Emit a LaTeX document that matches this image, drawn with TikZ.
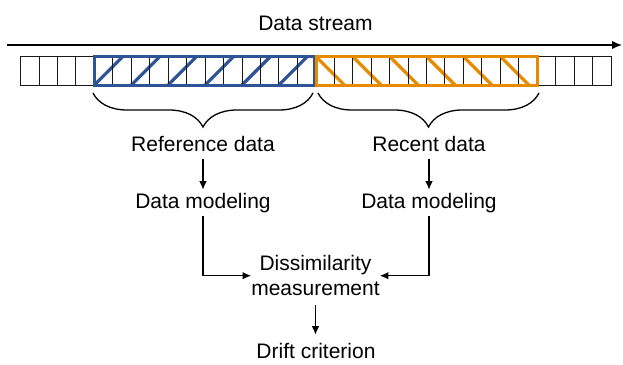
\documentclass[tikz,border=0pt]{standalone}
\usepackage{fontspec}
\setmainfont{Liberation Sans}
\usetikzlibrary{arrows.meta,decorations.pathreplacing}
\definecolor{refblue}{RGB}{47,84,150}
\definecolor{recorange}{RGB}{230,138,0}
\begin{document}
\begin{tikzpicture}[x=1pt,y=-1pt,
  lbl/.style={font=\fontsize{21}{25}\selectfont, text height=15.2pt, text depth=4.4pt, inner xsep=0pt, inner ysep=3pt, anchor=base},
  arr/.style={-{Latex[length=8.5pt,width=7.5pt]}, line width=1.1pt},
  cell/.style={draw=black!90, line width=1pt},
  hatch/.style={line width=3.2pt},
  frame/.style={line width=3pt},
  curly/.style={decorate, decoration={brace, amplitude=34pt, mirror}, line width=1.3pt}]
\useasboundingbox (0,0) rectangle (623,364);
\def\cx{20.6}\def\cw{18.45}\def\ct{56.5}\def\cb{85}
% cells
\foreach \i in {0,...,31}
  \draw[cell] ({\cx+\i*\cw},\ct) rectangle ({\cx+(\i+1)*\cw},\cb);
% blue hatch
\begin{scope}
  \clip ({\cx+4*\cw},\ct) rectangle ({\cx+16*\cw},\cb);
  \foreach \k in {0,...,6}
    \draw[refblue,hatch] ({\cx+4*\cw+2*\k*\cw},\cb) -- ++(28.5,-28.5);
\end{scope}
% orange hatch
\begin{scope}
  \clip ({\cx+16*\cw},\ct) rectangle ({\cx+28*\cw},\cb);
  \foreach \k in {0,...,6}
    \draw[recorange,hatch] ({\cx+16*\cw+2*\k*\cw},\ct) -- ++(28.5,28.5);
\end{scope}
\foreach \i in {5,...,15}
  \draw[cell] ({\cx+\i*\cw},\ct) -- ({\cx+\i*\cw},\cb);
\foreach \i in {17,...,27}
  \draw[cell] ({\cx+\i*\cw},\ct) -- ({\cx+\i*\cw},\cb);
\draw[refblue,frame] ({\cx+4*\cw},\ct) rectangle ({\cx+16*\cw-1},\cb);
\draw[recorange,frame] ({\cx+16*\cw+1},\ct) rectangle ({\cx+28*\cw},\cb);
% stream arrow
\coordinate (s0) at (7,45);
\coordinate (s1) at (622,45);
\draw[line width=1.5pt,-{Latex[length=10pt,width=8.5pt]}] (s0) -- (s1);
% braces
\coordinate (bl1) at (93,93);
\coordinate (bl2) at (313,93);
\coordinate (br1) at (318,93);
\coordinate (br2) at (539,93);
\draw[curly] (bl1) -- (bl2);
\draw[curly] (br1) -- (br2);
% labels
\node[lbl] (stream) at (315.5,30) {Data stream};
\node[lbl] (ref) at (203,151) {Reference data};
\node[lbl] (rec) at (429,151) {Recent data};
\node[lbl] (dmL) at (203,208) {Data modeling};
\node[lbl] (dmR) at (429,208) {Data modeling};
\node[font=\fontsize{21}{25}\selectfont, align=center, inner sep=0pt, minimum height=58.6pt] (diss) at (315.5,275.7) {Dissimilarity\\measurement};
\node[lbl] (drift) at (316,358) {Drift criterion};
% connectors
\draw[arr] (ref) -- (dmL);
\draw[arr] (rec) -- (dmR);
\draw[arr] (dmL.south) |- (diss.west);
\draw[arr] (dmR.south) |- (diss.east);
\draw[arr,shorten >=5pt] (diss.south) -- (diss.south |- drift.north);
\end{tikzpicture}
\end{document}
